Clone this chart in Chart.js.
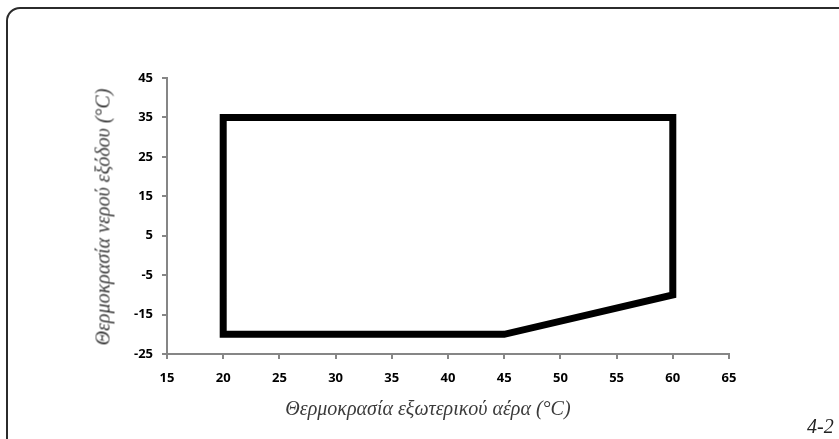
<!DOCTYPE html>
<html>
<head>
<meta charset="utf-8">
<script src="https://cdn.jsdelivr.net/npm/chart.js@4"></script>
<style>
  html, body { margin: 0; padding: 0; background: #fff; overflow: hidden; }
  #wrap { position: relative; width: 839px; height: 439px; }
  #frame {
    position: absolute; left: 6px; top: 7px; width: 900px; height: 500px;
    border: 2px solid #2b2b2b; border-top-left-radius: 14px; box-sizing: border-box;
  }
  #myChart { position: absolute; left: 0; top: 0; }
  .lbl { position: absolute; font-family: "Liberation Serif", serif; font-style: italic; color: #3a3a3a; white-space: nowrap; }
  #xTitle { left: 428px; top: 397px; font-size: 20px; transform: translateX(-50%); }
  #yTitle { left: 103px; top: 217px; font-size: 20px; transform: translate(-50%, -50%) rotate(-90deg); }
  #fig { left: 807px; top: 415px; font-size: 20px; color: #222; }
</style>
</head>
<body>
<div id="wrap">
  <div id="frame"></div>
  <canvas id="myChart" width="839" height="439"></canvas>
  <div class="lbl" id="xTitle">Θερμοκρασία εξωτερικού αέρα (°C)</div>
  <div class="lbl" id="yTitle">Θερμοκρασία νερού εξόδου (°C)</div>
  <div class="lbl" id="fig">4-2</div>
</div>
<script>
// envelope corners (outside air temp, leaving water temp)
const airTemp = [20, 60, 60, 45, 20, 20];
const waterTemp = [35, 35, -10, -20, -20, 35];

const xTicks = [15, 20, 25, 30, 35, 40, 45, 50, 55, 60, 65];
const yTicks = [-25, -15, -5, 5, 15, 25, 35, 45];

const points = airTemp.map((x, i) => ({ x: x, y: waterTemp[i] }));

const tickFont = { family: 'Open Sans', weight: 'bold', size: 13 };
const axisGrey = '#868686';

const config = {
    type: 'scatter',
    data: {
        datasets: [{
            data: points,
            showLine: true,
            borderColor: '#000',
            borderWidth: 7,
            borderJoinStyle: 'miter',
            borderCapStyle: 'square',
            pointRadius: 0,
            tension: 0,
            fill: false,
        }]
    },
    options: {
        responsive: false,
        animation: false,
        devicePixelRatio: 1,
        layout: { padding: { top: 78, right: 110, left: 0, bottom: 0 } },
        plugins: {
            legend: { display: false },
            tooltip: { enabled: false }
        },
        scales: {
            x: {
                type: 'linear',
                min: xTicks[0],
                max: xTicks[xTicks.length - 1],
                afterBuildTicks: (s) => { s.ticks = xTicks.map(v => ({ value: v })); },
                afterFit: (s) => { s.height = 85; },
                border: { color: axisGrey, width: 2 },
                grid: { drawOnChartArea: false, drawTicks: true, tickLength: 5, color: axisGrey, lineWidth: 2 },
                ticks: { color: '#000', font: tickFont, padding: 11, maxRotation: 0 }
            },
            y: {
                type: 'linear',
                min: yTicks[0],
                max: yTicks[yTicks.length - 1],
                afterBuildTicks: (s) => { s.ticks = yTicks.map(v => ({ value: v })); },
                afterFit: (s) => { s.width = 167; },
                border: { color: axisGrey, width: 2 },
                grid: { drawOnChartArea: false, drawTicks: true, tickLength: 5, color: axisGrey, lineWidth: 2 },
                ticks: { color: '#000', font: tickFont, padding: 9 }
            }
        }
    }
};

const myChart = new Chart(document.getElementById('myChart'), config);
</script>
</body>
</html>
